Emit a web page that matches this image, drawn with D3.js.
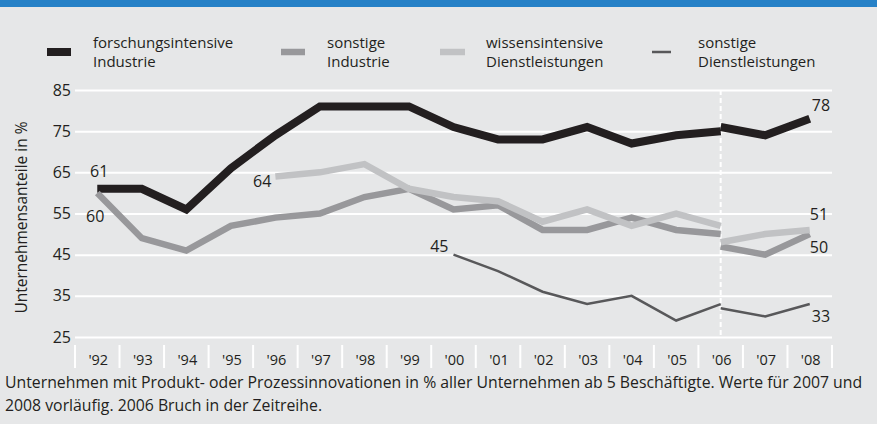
<!DOCTYPE html>
<html>
<head>
<meta charset="utf-8">
<script src="https://cdn.jsdelivr.net/npm/d3@7"></script>
<style>
  body { margin: 0; background: #e6e7e8; }
  text { font-family: "Open Sans", "Noto Sans", sans-serif; fill: #231f20; }
</style>
</head>
<body>
<div id="chart"></div>
<script>
var years = ["'92", "'93", "'94", "'95", "'96", "'97", "'98", "'99", "'00", "'01", "'02", "'03", "'04", "'05", "'06", "'07", "'08"]
var yTicks = [25, 35, 45, 55, 65, 75, 85]

// 1992-2006 (alte Reihe), dann 2006-2008 (neue Reihe)
var forschungAlt = [61, 61, 56, 66, 74, 81, 81, 81, 76, 73, 73, 76, 72, 74, 75, null, null]
var forschungNeu = [null, null, null, null, null, null, null, null, null, null, null, null, null, null, 76, 74, 78]
var industrieAlt = [60, 49, 46, 52, 54, 55, 59, 61, 56, 57, 51, 51, 54, 51, 50, null, null]
var industrieNeu = [null, null, null, null, null, null, null, null, null, null, null, null, null, null, 47, 45, 50]
var wissenAlt = [null, null, null, null, 64, 65, 67, 61, 59, 58, 53, 56, 52, 55, 52, null, null]
var wissenNeu = [null, null, null, null, null, null, null, null, null, null, null, null, null, null, 48, 50, 51]
var dienstAlt = [null, null, null, null, null, null, null, null, 45, 41, 36, 33, 35, 29, 33, null, null]
var dienstNeu = [null, null, null, null, null, null, null, null, null, null, null, null, null, null, 32, 30, 33]

var seriesNames = ["forschungsintensive Industrie", "sonstige Industrie", "wissensintensive Dienstleistungen", "sonstige Dienstleistungen"]
var footnote = ["Unternehmen mit Produkt- oder Prozessinnovationen in % aller Unternehmen ab 5 Beschäftigte. Werte für 2007 und",
    "2008 vorläufig. 2006 Bruch in der Zeitreihe."]

var width = 877, height = 424
var margin = {top: 90, right: 45, bottom: 87, left: 75}

var svg = d3.select("#chart")
    .append("svg")
        .attr("width", width)
        .attr("height", height)

svg.append("rect")
    .attr("width", width)
    .attr("height", height)
    .attr("fill", "#e6e7e8")

svg.append("rect")
    .attr("width", width)
    .attr("height", 7)
    .attr("fill", "#2681c7")

var x = d3.scaleBand()
    .domain(years)
    .range([margin.left, width - margin.right])

var y = d3.scaleLinear()
    .domain([25, 85])
    .range([height - margin.bottom, margin.top])

var cx = d => x(d) + x.bandwidth() / 2

// gridlines + y labels
var yAxis = svg.append("g")
    .attr("transform", "translate(" + margin.left + ",0)")
    .call(d3.axisLeft(y)
        .tickValues(yTicks)
        .tickSize(-(width - margin.left - margin.right))
        .tickPadding(4))
yAxis.select(".domain").remove()
yAxis.selectAll("line")
    .attr("stroke", "#fff")
    .attr("stroke-width", 2)
yAxis.selectAll("text")
    .attr("font-size", 16)
    .attr("fill", "#231f20")
    .attr("font-family", "\"Open Sans\", sans-serif")

svg.append("text")
    .attr("transform", "translate(27," + (y(55) + 4) + ") rotate(-90)")
    .attr("text-anchor", "middle")
    .attr("font-size", 15.5)
    .text("Unternehmensanteile in %")

// x axis: separators and labels
var axisTop = y(25) + 8
svg.append("g")
    .selectAll("line")
    .data(years.concat(["end"]))
    .join("line")
        .attr("x1", d => d == "end" ? width - margin.right : x(d))
        .attr("x2", d => d == "end" ? width - margin.right : x(d))
        .attr("y1", axisTop)
        .attr("y2", axisTop + 23)
        .attr("stroke", "#fff")
        .attr("stroke-width", 2)

svg.append("g")
    .selectAll("text")
    .data(years)
    .join("text")
        .attr("x", d => cx(d) + 1)
        .attr("y", axisTop + 20)
        .attr("text-anchor", "middle")
        .attr("font-size", 14.5)
        .text(d => d)

// Bruch 2006
svg.append("line")
    .attr("x1", cx("'06"))
    .attr("x2", cx("'06"))
    .attr("y1", y(85))
    .attr("y2", y(25))
    .attr("stroke", "#fff")
    .attr("stroke-width", 2)
    .attr("stroke-dasharray", "5,3")

var line = d3.line()
    .defined(d => d.v != null)
    .x(d => cx(d.year))
    .y(d => y(d.v))

var styles = [
    {alt: forschungAlt, neu: forschungNeu, color: "#231f20", w: 8},
    {alt: industrieAlt, neu: industrieNeu, color: "#98989b", w: 6.5},
    {alt: wissenAlt, neu: wissenNeu, color: "#c1c2c4", w: 6.5},
    {alt: dienstAlt, neu: dienstNeu, color: "#58585a", w: 2.5}
]

styles.forEach(s => {
    [s.alt, s.neu].forEach(vals => {
        svg.append("path")
            .datum(vals.map((v, i) => ({year: years[i], v: v})))
            .attr("fill", "none")
            .attr("stroke", s.color)
            .attr("stroke-width", s.w)
            .attr("stroke-linejoin", "miter")
            .attr("d", line)
    })
})

// value labels
var labels = [
    {year: "'92", v: forschungAlt[0], dx: 2, dy: -12, anchor: "middle"},
    {year: "'92", v: industrieAlt[0], dx: -2, dy: 29, anchor: "middle"},
    {year: "'96", v: wissenAlt[4], dx: -4, dy: 11, anchor: "end"},
    {year: "'00", v: dienstAlt[8], dx: -5, dy: -3, anchor: "end"},
    {year: "'08", v: forschungNeu[16], dx: 2, dy: -8, anchor: "start"},
    {year: "'08", v: wissenNeu[16], dx: 0, dy: -10, anchor: "start"},
    {year: "'08", v: industrieNeu[16], dx: 0, dy: 19, anchor: "start"},
    {year: "'08", v: dienstNeu[16], dx: 2, dy: 18, anchor: "start"}
]

svg.append("g")
    .selectAll("text")
    .data(labels)
    .join("text")
        .attr("x", d => cx(d.year) + d.dx)
        .attr("y", d => y(d.v) + d.dy)
        .attr("text-anchor", d => d.anchor)
        .attr("font-size", 16)
        .text(d => d.v)

// legend
var legendX = [47, 281, 440, 652]
var legendW = [24, 24, 25, 19]
var legend = svg.append("g")
legend.selectAll("rect")
    .data(styles)
    .join("rect")
        .attr("x", (d, i) => legendX[i])
        .attr("y", d => 52 - d.w / 2)
        .attr("width", (d, i) => legendW[i])
        .attr("height", d => d.w)
        .attr("fill", d => d.color)

seriesNames.forEach((name, i) => {
    var words = name.split(" ")
    var t = legend.append("text")
        .attr("x", legendX[i] + 46)
        .attr("y", 48)
        .attr("font-size", 15)
    t.append("tspan").text(words[0])
    t.append("tspan")
        .attr("x", legendX[i] + 46)
        .attr("dy", 19)
        .text(words[1])
})

svg.append("g")
    .selectAll("text")
    .data(footnote)
    .join("text")
        .attr("x", 5)
        .attr("y", (d, i) => 388 + i * 23)
        .attr("font-size", 15.8)
        .text(d => d)
</script>
</body>
</html>
